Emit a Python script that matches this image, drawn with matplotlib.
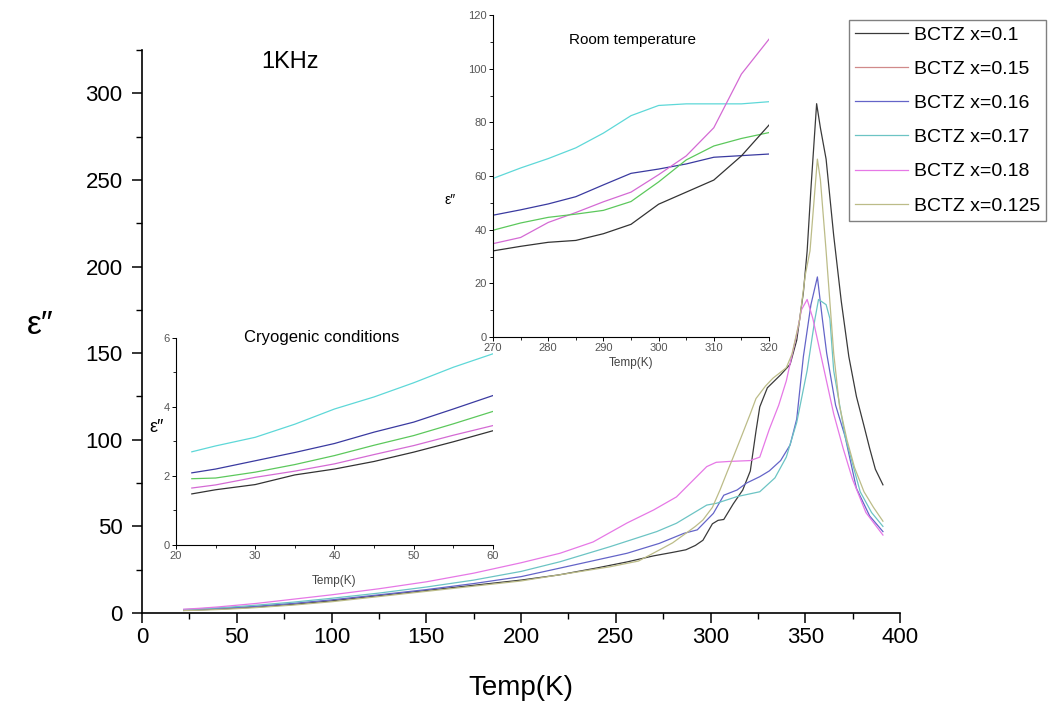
import matplotlib
matplotlib.use("Agg")
import matplotlib.pyplot as plt
from matplotlib.ticker import MultipleLocator

plt.rcParams["font.family"] = ["Liberation Sans", "DejaVu Sans"]

# ---- main plot (1KHz) ----
labels = ["BCTZ x=0.1", "BCTZ x=0.15", "BCTZ x=0.16",
          "BCTZ x=0.17", "BCTZ x=0.18", "BCTZ x=0.125"]

temp_010 = [22, 30, 40, 50, 60, 80, 100, 125, 150, 175, 200, 220, 240, 256, 270,
            280, 287, 292, 296, 301, 304, 307, 312, 317, 321, 324, 326, 330, 337,
            342, 345.5, 349, 351, 353, 356, 358, 361, 365, 369, 373, 377, 381, 384,
            387, 391]
eps_010 = [1.5, 1.8, 2.3, 2.8, 3.4, 5, 7, 10, 13, 16, 19, 22, 26, 29.5, 33,
           35, 36.5, 39, 42, 51.5, 53.5, 54, 63, 71, 82, 105, 119, 130, 137.5,
           143.5, 157.5, 185, 209, 245, 294, 280, 262, 218, 180, 148, 125, 108, 95,
           83, 74]

# x=0.15 is in the legend but no curve of it shows in the picture
temp_015 = []
eps_015 = []

temp_016 = [22, 30, 40, 50, 60, 80, 100, 125, 150, 175, 200, 220, 256, 273, 286,
            293, 301.5, 307, 314, 319, 326, 331, 337, 342, 345.5, 349, 353, 356.4,
            359, 361.3, 366, 371, 377, 384, 391]
eps_016 = [1.8, 2.1, 2.6, 3.2, 3.9, 5.6, 7.6, 10.5, 13.5, 17, 21, 25.8, 34.5, 40.2, 46,
           48, 57.5, 68, 71, 75, 78.7, 82, 88, 97, 112, 148, 178, 194,
           170, 150, 120, 102, 72, 56, 47]

temp_017 = [22, 30, 40, 50, 60, 80, 100, 125, 150, 175, 200, 220.6, 247, 271.6, 282,
            298, 303, 314, 326, 334, 340, 345.5, 351, 355, 357, 361, 363, 365, 371,
            379, 385, 391]
eps_017 = [2.0, 2.4, 3.0, 3.7, 4.5, 6.3, 8.5, 11.5, 15, 19, 24, 29.6, 38.3, 47, 51.8,
           62.3, 63.3, 67.2, 70, 78, 90, 110, 140, 169, 181, 178, 170, 140, 102,
           70, 58, 50]

temp_018 = [22, 30, 40, 50, 60, 80, 100, 125, 150, 175, 200, 220.6, 238, 256, 270,
            282, 298, 303, 310, 321, 326, 331, 336, 340, 345.5, 348, 351, 354, 358,
            362, 365, 370, 375, 382, 391]
eps_018 = [2.2, 2.7, 3.5, 4.5, 5.5, 8, 10.5, 14, 18, 23, 29, 34.5, 41, 52, 59.5,
           67, 84.5, 87, 87.5, 88, 90, 106, 120, 134, 161, 175, 181, 170, 150,
           130, 115, 95, 77, 58, 45]

temp_0125 = [22, 30, 40, 50, 60, 80, 100, 125, 150, 175, 200, 220, 247, 262, 273,
             280, 287, 292, 296, 301, 305, 309, 312, 316, 321, 324, 329, 333, 337,
             340, 343, 347, 350, 352.5, 356.4, 358, 361, 365, 368, 372, 376, 381,
             386, 391]
eps_0125 = [1.4, 1.6, 2.0, 2.5, 3.1, 4.6, 6.5, 9.5, 12.5, 15.5, 18.5, 22, 26.7, 30, 36.4,
            40.5, 46, 50, 53.7, 61, 71, 82, 90, 101, 115, 123.8, 131, 135.6, 139,
            141.6, 149.5, 169, 195, 209, 262, 250, 209, 150, 120, 100, 84, 70,
            61, 53]

# ---- inset: room temperature ----
room_temp = [270, 275, 280, 285, 290, 295, 300, 305, 310, 315, 320]
room_cyan = [59.1, 63, 66.5, 70.5, 76, 82.5, 86.3, 86.9, 86.9, 86.9, 87.7]
room_blue = [45.4, 47.4, 49.6, 52.3, 56.7, 61, 62.6, 64.5, 67, 67.6, 68.2]
room_pink = [34.8, 37.1, 42.7, 46.4, 50.4, 54, 60.5, 67.5, 78, 98, 111]
room_green = [39.8, 42.5, 44.6, 45.8, 47.2, 50.5, 57.8, 66, 71.2, 74, 76.2]
room_black = [32.1, 33.8, 35.3, 36, 38.5, 42, 49.5, 54, 58.5, 67.5, 79]

# ---- inset: cryogenic conditions ----
cryo_temp = [22, 25, 30, 35, 40, 45, 50, 55, 60]
cryo_cyan = [2.70, 2.87, 3.12, 3.50, 3.94, 4.29, 4.70, 5.15, 5.54]
cryo_blue = [2.09, 2.20, 2.44, 2.68, 2.94, 3.27, 3.56, 3.94, 4.33]
cryo_green = [1.92, 1.94, 2.11, 2.33, 2.59, 2.89, 3.17, 3.51, 3.87]
cryo_pink = [1.65, 1.74, 1.96, 2.14, 2.35, 2.62, 2.88, 3.18, 3.46]
cryo_black = [1.48, 1.60, 1.75, 2.03, 2.20, 2.42, 2.69, 2.99, 3.31]


def style_inset(ax):
    for side in ["top", "right"]:
        ax.spines[side].set_visible(False)
    for side in ["left", "bottom"]:
        ax.spines[side].set_linewidth(0.8)
    ax.tick_params(which="major", direction="out", length=3, width=0.7,
                   labelsize=8, labelcolor="#555555", pad=1.5)
    ax.tick_params(which="minor", direction="out", length=2, width=0.6)
    # transparent so the other inset's tick labels stay visible
    ax.patch.set_alpha(0)


def main():
    fig = plt.figure(figsize=(10.53, 7.03), dpi=100)

    # main axes
    ax = fig.add_axes([0.1349, 0.128, 0.7198, 0.8009])
    main_colors = ["#3a3a3a", "#d08a8a", "#6464c8", "#6cc4c4", "#e678e6", "#bcbc88"]
    series = [(temp_010, eps_010), (temp_015, eps_015), (temp_016, eps_016),
              (temp_017, eps_017), (temp_018, eps_018), (temp_0125, eps_0125)]
    handles = []
    for (t, e), c, lab in zip(series, main_colors, labels):
        line, = ax.plot(t, e, color=c, lw=0.9, label=lab)
        handles.append(line)

    ax.set_xlim(0, 400)
    ax.set_ylim(0, 325)
    ax.xaxis.set_major_locator(MultipleLocator(50))
    ax.xaxis.set_minor_locator(MultipleLocator(25))
    ax.yaxis.set_major_locator(MultipleLocator(50))
    ax.yaxis.set_minor_locator(MultipleLocator(25))
    for side in ["top", "right"]:
        ax.spines[side].set_visible(False)
    for side in ["left", "bottom"]:
        ax.spines[side].set_linewidth(1.2)
    ax.tick_params(which="major", direction="out", length=7, width=1.1, labelsize=16)
    ax.tick_params(axis="y", which="major", pad=7)
    ax.tick_params(axis="x", which="major", pad=3)
    ax.tick_params(which="minor", direction="out", length=4.5, width=1.0)

    ax.set_xlabel("Temp(K)", fontsize=20, va="center")
    ax.xaxis.set_label_coords(0.5, -0.133)
    ax.set_ylabel("ε″", fontsize=24, rotation=0, va="center", ha="center")
    ax.yaxis.set_label_coords(-0.1346, 0.5115)
    ax.text(0.195, 0.978, "1KHz", transform=ax.transAxes, fontsize=17,
            ha="center", va="center")

    leg = fig.legend(handles=handles, loc="upper left",
                     bbox_to_anchor=(849 / 1053, 1 - 20 / 703),
                     bbox_transform=fig.transFigure,
                     borderaxespad=0, fancybox=False, edgecolor="#808080", framealpha=1,
                     fontsize=14, handlelength=2.7, handletextpad=0.3,
                     labelspacing=0.85, borderpad=0.32)
    leg.get_frame().set_linewidth(1.0)

    inset_colors = {"black": "#333333", "blue": "#3a3aa0", "pink": "#d46ad4",
                    "green": "#5cc85c", "cyan": "#5ed8d8"}

    # room temperature inset
    room = fig.add_axes([0.4682, 0.5206, 0.2621, 0.458])
    room.plot(room_temp, room_cyan, color=inset_colors["cyan"], lw=0.9)
    room.plot(room_temp, room_blue, color=inset_colors["blue"], lw=0.9)
    room.plot(room_temp, room_pink, color=inset_colors["pink"], lw=0.9)
    room.plot(room_temp, room_green, color=inset_colors["green"], lw=0.9)
    room.plot(room_temp, room_black, color=inset_colors["black"], lw=0.9)
    room.set_xlim(270, 320)
    room.set_ylim(0, 120)
    room.xaxis.set_major_locator(MultipleLocator(10))
    room.xaxis.set_minor_locator(MultipleLocator(5))
    room.yaxis.set_major_locator(MultipleLocator(20))
    room.yaxis.set_minor_locator(MultipleLocator(10))
    style_inset(room)
    room.text(0.507, 0.922, "Room temperature", transform=room.transAxes,
              fontsize=11, ha="center", va="center")
    room.set_xlabel("Temp(K)", fontsize=8.5, color="#444444")
    room.xaxis.set_label_coords(0.5, -0.062)
    room.set_ylabel("ε″", fontsize=10, rotation=0, va="center", ha="center")
    room.yaxis.set_label_coords(-0.156, 0.425)

    # cryogenic inset
    cryo = fig.add_axes([0.1671, 0.2248, 0.301, 0.2945])
    cryo.plot(cryo_temp, cryo_cyan, color=inset_colors["cyan"], lw=0.9)
    cryo.plot(cryo_temp, cryo_blue, color=inset_colors["blue"], lw=0.9)
    cryo.plot(cryo_temp, cryo_green, color=inset_colors["green"], lw=0.9)
    cryo.plot(cryo_temp, cryo_pink, color=inset_colors["pink"], lw=0.9)
    cryo.plot(cryo_temp, cryo_black, color=inset_colors["black"], lw=0.9)
    cryo.set_xlim(20, 60)
    cryo.set_ylim(0, 6)
    cryo.xaxis.set_major_locator(MultipleLocator(10))
    cryo.xaxis.set_minor_locator(MultipleLocator(5))
    cryo.yaxis.set_major_locator(MultipleLocator(2))
    cryo.yaxis.set_minor_locator(MultipleLocator(1))
    style_inset(cryo)
    cryo.text(0.46, 1.0, "Cryogenic conditions", transform=cryo.transAxes,
              fontsize=12, ha="center", va="center")
    cryo.set_xlabel("Temp(K)", fontsize=8.5, color="#444444")
    cryo.xaxis.set_label_coords(0.5, -0.145)
    cryo.set_ylabel("ε″", fontsize=13, rotation=0, va="center", ha="center")
    cryo.yaxis.set_label_coords(-0.06, 0.565)

    fig.savefig("out.png", dpi=100)


if __name__ == "__main__":
    main()
